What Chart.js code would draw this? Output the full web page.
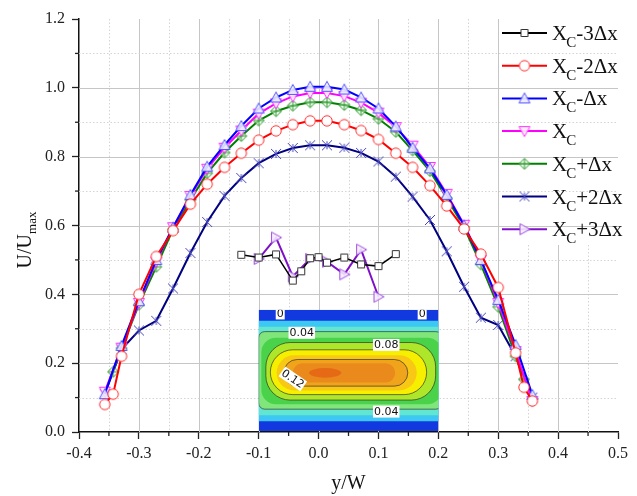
<!DOCTYPE html>
<html>
<head>
<meta charset="utf-8">
<script src="https://cdn.jsdelivr.net/npm/chart.js@4.4.0/dist/chart.umd.min.js"></script>
<style>
  html, body { margin: 0; padding: 0; background: #fff; }
  #wrap { width: 637px; height: 496px; }
</style>
</head>
<body>
<div id="wrap"><canvas id="chart" width="637" height="496"></canvas></div>
<script>
// y/W positions of the measured points across the channel
const yw = [-0.357, -0.343, -0.329, -0.300, -0.271, -0.243, -0.214, -0.186, -0.157, -0.129, -0.100, -0.071, -0.043, -0.014,
            0.014, 0.043, 0.071, 0.100, 0.129, 0.157, 0.186, 0.214, 0.243, 0.271, 0.300, 0.329, 0.343, 0.357];

// U/Umax profiles (null = no point at that position)
const xcMinus2 = [0.08, 0.11, 0.22, 0.40, 0.51, 0.585, 0.662, 0.72, 0.769, 0.81, 0.848, 0.875, 0.893, 0.904,
                  0.904, 0.893, 0.876, 0.85, 0.81, 0.769, 0.716, 0.657, 0.59, 0.517, 0.42, 0.23, 0.13, 0.09];
const xcMinus1 = [0.11, null, 0.25, 0.38, 0.50, 0.594, 0.689, 0.771, 0.834, 0.889, 0.94, 0.972, 0.994, 1.003,
                  1.003, 0.995, 0.972, 0.94, 0.888, 0.826, 0.766, 0.689, 0.60, 0.50, 0.384, 0.253, null, 0.108];
const xc       = [0.117, null, 0.245, 0.375, 0.495, 0.595, 0.686, 0.765, 0.826, 0.876, 0.925, 0.955, 0.975, 0.985,
                  0.985, 0.976, 0.957, 0.928, 0.886, 0.832, 0.77, 0.692, 0.602, 0.50, 0.375, 0.235, null, 0.09];
const xcPlus1  = [null, 0.175, 0.243, 0.37, 0.48, 0.589, 0.674, 0.752, 0.812, 0.86, 0.905, 0.932, 0.948, 0.958,
                  0.958, 0.95, 0.935, 0.91, 0.872, 0.818, 0.758, 0.68, 0.595, 0.487, 0.364, 0.22, 0.153, null];
const xcPlus2  = [0.11, null, 0.24, 0.295, 0.323, 0.417, 0.52, 0.61, 0.686, 0.738, 0.781, 0.808, 0.825, 0.833,
                  0.833, 0.826, 0.811, 0.786, 0.742, 0.684, 0.616, 0.525, 0.422, 0.332, 0.311, 0.22, null, 0.10];

// the two short profiles near the middle
const xcMinus3Pos = [-0.129, -0.100, -0.071, -0.043, -0.029, -0.014, 0.000, 0.014, 0.043, 0.071, 0.100, 0.129];
const xcMinus3    = [0.515, 0.507, 0.516, 0.44, 0.467, 0.505, 0.508, 0.492, 0.507, 0.487, 0.482, 0.517];
const xcPlus3Pos  = [-0.100, -0.071, -0.043, -0.014, 0.014, 0.043, 0.071, 0.100];
const xcPlus3     = [0.503, 0.565, 0.452, 0.503, 0.495, 0.458, 0.53, 0.393];

const legendTails = ['-3Δx', '-2Δx', '-Δx', '', '+Δx', '+2Δx', '+3Δx'];

// inset contour picture extent, in axis units
const insetX = [-0.1, 0.2];
const insetY = [0.003, 0.355];

const SERIF = '"Liberation Serif", "Times New Roman", serif';
Chart.defaults.font.family = SERIF;

function pts(xs, ys) {
    return xs.map((x, i) => ({ x: x, y: ys[i] })).filter(p => p.y !== null);
}

function marker(kind, stroke, fill) {
    const c = document.createElement('canvas');
    c.width = 14; c.height = 14;
    const g = c.getContext('2d');
    g.strokeStyle = stroke;
    g.fillStyle = fill;
    g.lineWidth = 1;
    g.beginPath();
    if (kind === 'square') {
        g.rect(3.5, 3.5, 7, 7);
    } else if (kind === 'circle') {
        g.arc(7, 7, 5.2, 0, Math.PI * 2);
    } else if (kind === 'up') {
        g.moveTo(7, 1.5); g.lineTo(12.5, 11.5); g.lineTo(1.5, 11.5); g.closePath();
    } else if (kind === 'down') {
        g.moveTo(7, 12.5); g.lineTo(12.5, 2.5); g.lineTo(1.5, 2.5); g.closePath();
    } else if (kind === 'right') {
        g.moveTo(12.5, 7); g.lineTo(2.5, 1.5); g.lineTo(2.5, 12.5); g.closePath();
    } else if (kind === 'diamond') {
        g.moveTo(7, 1.5); g.lineTo(12.5, 7); g.lineTo(7, 12.5); g.lineTo(1.5, 7); g.closePath();
    }
    if (kind !== 'star') { g.fill(); g.stroke(); }
    if (kind === 'diamond') {
        g.beginPath();
        g.moveTo(7, 2); g.lineTo(7, 12); g.moveTo(2, 7); g.lineTo(12, 7);
        g.stroke();
    }
    if (kind === 'star') {
        g.beginPath();
        g.moveTo(2, 2); g.lineTo(12, 12); g.moveTo(12, 2); g.lineTo(2, 12);
        g.moveTo(7, 3); g.lineTo(7, 11);
        g.stroke();
    }
    return c;
}

const series = [
    { data: pts(xcMinus3Pos, xcMinus3), color: '#000000', mk: marker('square', '#333333', '#ffffff'), w: 1.5 },
    { data: pts(yw, xcMinus2), color: '#ff0000', mk: marker('circle', '#ff3030', '#ffffff'), w: 2 },
    { data: pts(yw, xcMinus1), color: '#0000ff', mk: marker('up', '#5555ff', 'rgba(235,235,255,0.9)'), w: 2 },
    { data: pts(yw, xc), color: '#ff00ff', mk: marker('down', '#ff33ff', 'rgba(255,235,255,0.9)'), w: 2 },
    { data: pts(yw, xcPlus1), color: '#008000', mk: marker('diamond', '#339933', 'rgba(235,255,235,0.6)'), w: 2 },
    { data: pts(yw, xcPlus2), color: '#000080', mk: marker('star', '#4444bb', '#ffffff'), w: 2 },
    { data: pts(xcPlus3Pos, xcPlus3), color: '#8010c8', mk: marker('right', '#a050e0', 'rgba(245,235,255,0.9)'), w: 2 }
];

const isMajorX = v => Math.abs(v * 10 - Math.round(v * 10)) < 1e-6;
const isMajorY = v => Math.round(v * 10) % 2 === 0;

function roundRectPath(g, x, y, w, h, r) {
    r = Math.min(r, h / 2, w / 2);
    g.beginPath();
    g.moveTo(x + r, y);
    g.lineTo(x + w - r, y);
    g.arcTo(x + w, y, x + w, y + r, r);
    g.lineTo(x + w, y + h - r);
    g.arcTo(x + w, y + h, x + w - r, y + h, r);
    g.lineTo(x + r, y + h);
    g.arcTo(x, y + h, x, y + h - r, r);
    g.lineTo(x, y + r);
    g.arcTo(x, y, x + r, y, r);
    g.closePath();
}

const backdrop = {
    id: 'backdrop',
    beforeDatasetsDraw(chart) {
        const g = chart.ctx;
        const ca = chart.chartArea;
        const xs = chart.scales.x, ys = chart.scales.y;
        const legendBottom = ca.top + 226;
        g.save();
        // grid
        xs.ticks.forEach(t => {
            const v = t.value;
            if (v < -0.39 || v > 0.49) return;
            const px = Math.round(xs.getPixelForValue(v)) + 0.5;
            const top = v > 0.34 ? legendBottom : ca.top;
            g.beginPath();
            if (isMajorX(v)) { g.setLineDash([]); g.strokeStyle = '#c6c6c6'; }
            else { g.setLineDash([1.5, 2]); g.strokeStyle = '#d4d4d4'; }
            g.lineWidth = 1;
            g.moveTo(px, top); g.lineTo(px, ca.bottom);
            g.stroke();
        });
        ys.ticks.forEach(t => {
            const v = t.value;
            if (v < 0.05 || v > 1.15) return;
            const py = Math.round(ys.getPixelForValue(v)) + 0.5;
            g.beginPath();
            if (isMajorY(v)) { g.setLineDash([]); g.strokeStyle = '#c6c6c6'; }
            else { g.setLineDash([1.5, 2]); g.strokeStyle = '#d4d4d4'; }
            g.moveTo(ca.left, py); g.lineTo(ca.right, py);
            g.stroke();
        });
        g.setLineDash([]);
        // minor ticks
        g.strokeStyle = '#222';
        g.lineWidth = 1.3;
        xs.ticks.forEach(t => {
            if (isMajorX(t.value)) return;
            const px = xs.getPixelForValue(t.value);
            g.beginPath(); g.moveTo(px, ca.bottom); g.lineTo(px, ca.bottom + 4); g.stroke();
        });
        ys.ticks.forEach(t => {
            if (isMajorY(t.value)) return;
            const py = ys.getPixelForValue(t.value);
            g.beginPath(); g.moveTo(ca.left - 4, py); g.lineTo(ca.left, py); g.stroke();
        });

        // inset contour picture
        const L = xs.getPixelForValue(insetX[0]), R = xs.getPixelForValue(insetX[1]);
        const T = ys.getPixelForValue(insetY[1]), B = ys.getPixelForValue(insetY[0]);
        const W = R - L, H = B - T;
        g.save();
        g.beginPath(); g.rect(L, T, W, H); g.clip();
        g.fillStyle = '#1238e0';
        g.fillRect(L, T, W, H);
        const layers = [
            [0, 1.02, 0.09, 0.92, 0, '#3cc8f2'],
            [0, 1.02, 0.14, 0.87, 0, '#62e6d2'],
            [0, 1.02, 0.18, 0.82, 0.05, '#80e67c'],
            [0.015, 1.02, 0.23, 0.78, 0.12, '#4ad24a'],
            [0.04, 0.985, 0.27, 0.745, 0.2, '#aee62a'],
            [0.065, 0.935, 0.33, 0.70, 0.5, '#f6f000'],
            [0.10, 0.88, 0.375, 0.665, 0.5, '#f8c814'],
            [0.14, 0.83, 0.41, 0.63, 0.5, '#f0a41c'],
            [0.19, 0.76, 0.44, 0.60, 0.5, '#ea8a1c']
        ];
        const contourAt = [2, 4, 5, 7];
        layers.forEach((l, i) => {
            const x = L + l[0] * W, y = T + l[2] * H, w = (l[1] - l[0]) * W, h = (l[3] - l[2]) * H;
            roundRectPath(g, x, y, w, h, l[4] * H);
            g.fillStyle = l[5];
            g.fill();
            if (contourAt.includes(i)) {
                g.strokeStyle = 'rgba(40,40,40,0.8)';
                g.lineWidth = 0.8;
                g.stroke();
            }
        });
        g.beginPath();
        g.ellipse(L + 0.37 * W, T + 0.52 * H, 0.09 * W, 0.04 * H, 0, 0, Math.PI * 2);
        g.fillStyle = '#e66a16';
        g.fill();
        // contour labels
        const labels = [['0', 0.12, 0.03, 0], ['0', 0.91, 0.03, 0], ['0.04', 0.24, 0.19, 0],
                        ['0.08', 0.71, 0.29, 0], ['0.12', 0.19, 0.57, 0.6], ['0.04', 0.71, 0.84, 0]];
        g.font = '11px "DejaVu Sans", sans-serif';
        g.textAlign = 'center';
        g.textBaseline = 'middle';
        labels.forEach(l => {
            g.save();
            g.translate(L + l[1] * W, T + l[2] * H);
            g.rotate(l[3]);
            const tw = g.measureText(l[0]).width;
            g.fillStyle = '#ffffff';
            g.fillRect(-tw / 2 - 1, -6, tw + 2, 12);
            g.fillStyle = '#111';
            g.fillText(l[0], 0, 0.5);
            g.restore();
        });
        g.restore();
        g.restore();
    },
    afterDraw(chart) {
        const g = chart.ctx;
        const ca = chart.chartArea;
        g.save();
        // legend
        const x0 = ca.right - 116, x1 = ca.right - 71, tx = ca.right - 66;
        series.forEach((s, i) => {
            const cy = ca.top + 14 + i * 32.7;
            g.strokeStyle = s.color;
            g.lineWidth = 2;
            g.beginPath(); g.moveTo(x0, cy); g.lineTo(x1, cy); g.stroke();
            g.drawImage(s.mk, (x0 + x1) / 2 - 7, cy - 7);
            g.fillStyle = '#111';
            g.textAlign = 'left';
            g.textBaseline = 'alphabetic';
            g.font = '21px ' + SERIF;
            g.fillText('X', tx, cy + 7);
            let px = tx + g.measureText('X').width - 1;
            g.font = '15px ' + SERIF;
            g.fillText('C', px, cy + 14);
            px += g.measureText('C').width;
            g.font = '21px ' + SERIF;
            g.fillText(legendTails[i], px, cy + 7);
        });
        // axis titles
        g.font = '20px ' + SERIF;
        g.textAlign = 'center';
        g.fillText('y/W', (ca.left + ca.right) / 2, 489);
        g.save();
        g.translate(24, 240);
        g.rotate(-Math.PI / 2);
        g.textAlign = 'left';
        const main = 'U/U';
        const mw = g.measureText(main).width;
        g.font = '13px ' + SERIF;
        const sw = g.measureText('max').width;
        const start = -(mw + sw) / 2;
        g.font = '20px ' + SERIF;
        g.fillText(main, start, 7);
        g.font = '13px ' + SERIF;
        g.fillText('max', start + mw, 12);
        g.restore();
        g.restore();
    }
};

const ctx = document.getElementById('chart').getContext('2d');
const chart = new Chart(ctx, {
    type: 'line',
    data: {
        datasets: series.map((s, i) => ({
            label: 'XC' + legendTails[i],
            data: s.data,
            borderColor: s.color,
            backgroundColor: s.color,
            borderWidth: s.w,
            pointStyle: s.mk,
            pointRadius: 5,
            tension: 0,
            fill: false
        }))
    },
    options: {
        responsive: false,
        animation: false,
        layout: { padding: { top: 19, right: 19, left: 0, bottom: 0 } },
        plugins: { legend: { display: false }, tooltip: { enabled: false } },
        scales: {
            x: {
                type: 'linear',
                min: -0.4, max: 0.5,
                afterFit: s => { s.height = 64; },
                border: { display: true, color: '#111', width: 1.5 },
                grid: {
                    drawOnChartArea: false, drawTicks: true, tickLength: 7, tickWidth: 1.3,
                    tickColor: c => isMajorX(c.tick.value) ? '#222' : 'rgba(0,0,0,0)'
                },
                ticks: {
                    stepSize: 0.05, autoSkip: false, maxRotation: 0, padding: 5,
                    color: '#222', font: { family: SERIF, size: 16 },
                    callback: v => isMajorX(v) ? (Math.round(v * 10) / 10).toFixed(1) : ''
                }
            },
            y: {
                min: 0, max: 1.2,
                afterFit: s => { s.width = 79; },
                border: { display: true, color: '#111', width: 1.5 },
                grid: {
                    drawOnChartArea: false, drawTicks: true, tickLength: 7, tickWidth: 1.3,
                    tickColor: c => isMajorY(c.tick.value) ? '#222' : 'rgba(0,0,0,0)'
                },
                ticks: {
                    stepSize: 0.1, autoSkip: false, padding: 7,
                    color: '#222', font: { family: SERIF, size: 16 },
                    callback: v => isMajorY(v) ? (Math.round(v * 10) / 10).toFixed(1) : ''
                }
            }
        }
    },
    plugins: [backdrop]
});
</script>
</body>
</html>
